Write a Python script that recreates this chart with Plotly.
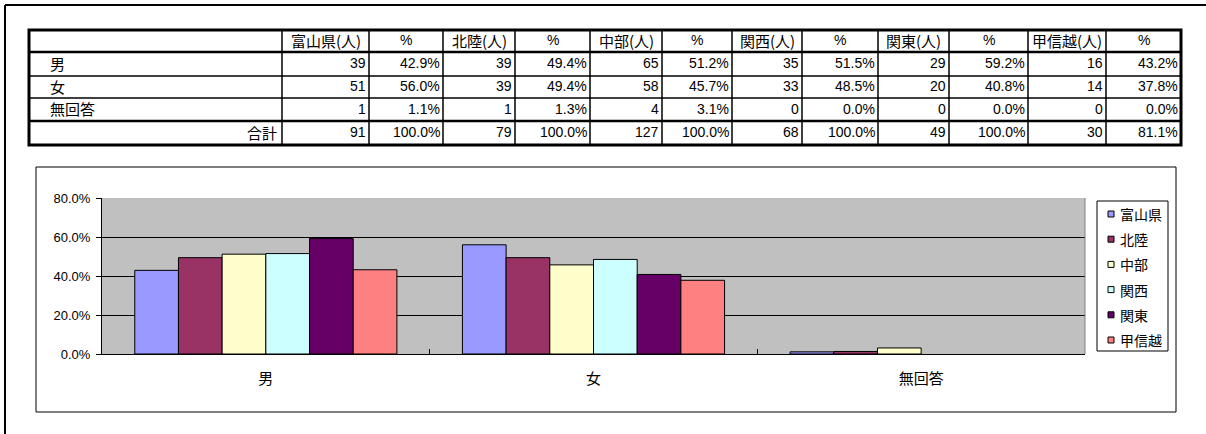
import plotly.graph_objects as go

# ---------------- data ----------------
regions = ["富山県", "北陸", "中部", "関西", "関東", "甲信越"]
answers = ["男", "女", "無回答"]
total_label = "合計"

toyama_n = [39, 51, 1, 91]
hokuriku_n = [39, 39, 1, 79]
chubu_n = [65, 58, 4, 127]
kansai_n = [35, 33, 0, 68]
kanto_n = [29, 20, 0, 49]
koshinetsu_n = [16, 14, 0, 30]

toyama_pct = [42.9, 56.0, 1.1, 100.0]
hokuriku_pct = [49.4, 49.4, 1.3, 100.0]
chubu_pct = [51.2, 45.7, 3.1, 100.0]
kansai_pct = [51.5, 48.5, 0.0, 100.0]
kanto_pct = [59.2, 40.8, 0.0, 100.0]
koshinetsu_pct = [43.2, 37.8, 0.0, 81.1]

colors = ["#9999FF", "#993366", "#FFFFCC", "#CCFFFF", "#660066", "#FF8080"]

counts = [toyama_n, hokuriku_n, chubu_n, kansai_n, kanto_n, koshinetsu_n]
pcts = [toyama_pct, hokuriku_pct, chubu_pct, kansai_pct, kanto_pct, koshinetsu_pct]

# ---------------- layout geometry (pixels) ----------------
W, H = 1206, 434
PL, PR, PT, PB = 102, 1085, 198, 354  # plot area

def X(px):
    return (px - PL) / (PR - PL)

def Y(py):
    return (PB - py) / (PB - PT)

NUM_FONT = "Liberation Sans Narrow, Arial Narrow, Liberation Sans, Arial, sans-serif"
CJK_FONT = "Noto Sans CJK JP, sans-serif"

fig = go.Figure()
for name, col, p in zip(regions, colors, pcts):
    vals = p[:3]
    fig.add_trace(go.Bar(
        x=answers, y=vals, name=name,
        marker=dict(color=col,
                    line=dict(color="#000000", width=[1 if v > 0 else 0 for v in vals])),
        showlegend=False,
    ))

shapes = []
annotations = []

def line(x0, y0, x1, y1, w=1, color="#000000"):
    shapes.append(dict(type="line", xref="paper", yref="paper",
                       x0=X(x0), y0=Y(y0), x1=X(x1), y1=Y(y1),
                       line=dict(color=color, width=w)))

def rect(x0, y0, x1, y1, w=1, color="#000000", fill=None, layer="above"):
    d = dict(type="rect", xref="paper", yref="paper",
             x0=X(x0), y0=Y(y0), x1=X(x1), y1=Y(y1),
             line=dict(color=color, width=w), layer=layer)
    if fill:
        d["fillcolor"] = fill
    shapes.append(d)

def text(px, py, s, anchor="center", size=13, family=NUM_FONT):
    annotations.append(dict(xref="paper", yref="paper", x=X(px), y=Y(py),
                            text=s, showarrow=False, xanchor=anchor, yanchor="middle",
                            font=dict(family=family, size=size, color="#000000")))

# page border (top and left)
line(5, 5, W, 5, w=2)
line(5, 5, 5, H, w=2)

# ---------------- table ----------------
col_x = [29, 282, 369, 443, 515, 590, 662, 732, 802, 878, 949, 1028, 1106, 1181]
row_y = [30, 52, 76, 98, 121, 145]

for i, yy in enumerate(row_y[1:-1], start=1):
    w = 2.5 if i in (1, 4) else 1.5
    line(col_x[0], yy, col_x[-1], yy, w=w)
for xx in col_x[1:-1]:
    line(xx, row_y[0], xx, row_y[-1], w=1.5)
rect(col_x[0], row_y[0], col_x[-1], row_y[-1], w=3)

# header
for k, name in enumerate(regions):
    c0, c1, c2 = col_x[1 + 2 * k], col_x[2 + 2 * k], col_x[3 + 2 * k]
    yc = (row_y[0] + row_y[1]) / 2 - 1
    text((c0 + c1) / 2, yc, name + "(人)", size=15, family=CJK_FONT)
    text((c1 + c2) / 2, yc, "%", size=14)

# row labels
for r, a in enumerate(answers):
    yc = (row_y[r + 1] + row_y[r + 2]) / 2 - 1
    text(48, yc, a, anchor="left", size=15, family=CJK_FONT)
text(col_x[1] - 3, (row_y[4] + row_y[5]) / 2 - 1, total_label, anchor="right", size=15, family=CJK_FONT)

# values
for k in range(len(regions)):
    c1, c2 = col_x[2 + 2 * k], col_x[3 + 2 * k]
    for r in range(4):
        yc = (row_y[r + 1] + row_y[r + 2]) / 2 - 1
        text(c1 - 1, yc, str(counts[k][r]), anchor="right", size=14)
        text(c2 - 1, yc, f"{pcts[k][r]:.1f}%", anchor="right", size=14)

# ---------------- chart frame ----------------
rect(36, 167, 1176, 412, w=1, color="#000000", layer="below")
# plot area right border (gray)
line(PR, PT, PR, PB, w=1, color="#808080")

# legend (manual)
rect(1097, 201, 1168, 351, w=1, color="#000000")
for i, (name, col) in enumerate(zip(regions, colors)):
    yc = 214 + 25.2 * i
    rect(1108, yc - 3, 1114, yc + 3, w=1, color="#000000", fill=col)
    text(1118, yc, name, anchor="left", size=14, family=CJK_FONT)

fig.update_layout(
    width=W, height=H,
    margin=dict(l=PL, r=W - PR, t=PT, b=H - PB, pad=0),
    paper_bgcolor="#FFFFFF",
    plot_bgcolor="#C0C0C0",
    barmode="group",
    bargap=0.2,
    bargroupgap=0,
    showlegend=False,
    shapes=shapes,
    annotations=annotations,
    xaxis=dict(
        showline=True, linecolor="#000000", linewidth=1,
        ticks="inside", tickson="boundaries", ticklen=5, tickcolor="#000000",
        showgrid=False,
        tickfont=dict(family=CJK_FONT, size=15, color="#000000"),
        ticklabelstandoff=11,
    ),
    yaxis=dict(
        range=[0, 80], dtick=20, tick0=0,
        tickformat=".1f", ticksuffix="%",
        showline=True, linecolor="#000000", linewidth=1,
        ticks="outside", ticklen=5, tickcolor="#000000",
        showgrid=True, gridcolor="#000000", gridwidth=1,
        zeroline=False,
        tickfont=dict(family=NUM_FONT, size=13, color="#000000"),
        ticklabelstandoff=3,
    ),
)

fig.write_html("out.html", config={"displayModeBar": False},
               post_script="document.body.style.margin='0';")
